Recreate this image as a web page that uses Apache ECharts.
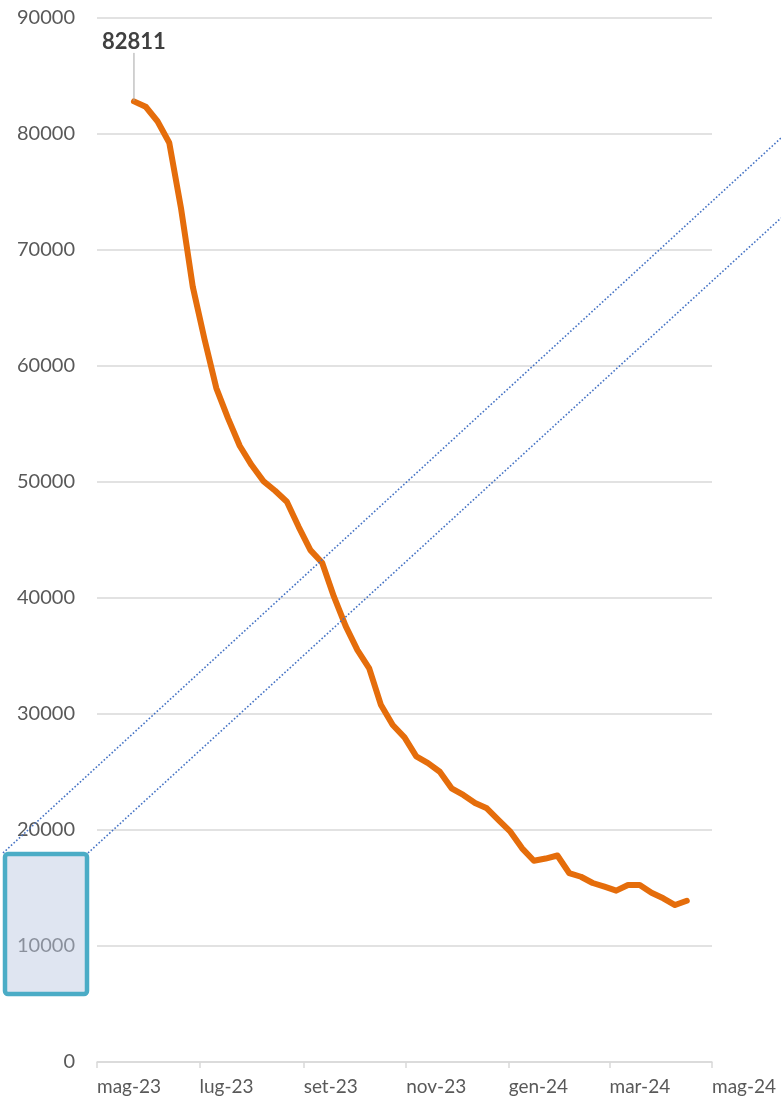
<!DOCTYPE html>
<html>
<head>
<meta charset="utf-8">
<script src="https://cdn.jsdelivr.net/npm/echarts@6/dist/echarts.min.js"></script>
<style>
  html, body { margin: 0; padding: 0; background: #fff; }
  #chart { width: 781px; height: 1102px; }
</style>
</head>
<body>
<div id="chart"></div>
<script>
// settimanale, da fine maggio 2023 a metà aprile 2024
var dates = [
    '2023-05-23', '2023-05-30', '2023-06-06', '2023-06-13', '2023-06-20', '2023-06-27',
    '2023-07-04', '2023-07-11', '2023-07-18', '2023-07-25', '2023-08-01', '2023-08-08',
    '2023-08-15', '2023-08-22', '2023-08-29', '2023-09-05', '2023-09-12', '2023-09-19',
    '2023-09-26', '2023-10-03', '2023-10-10', '2023-10-17', '2023-10-24', '2023-10-31',
    '2023-11-07', '2023-11-14', '2023-11-21', '2023-11-28', '2023-12-05', '2023-12-12',
    '2023-12-19', '2023-12-26', '2024-01-02', '2024-01-09', '2024-01-16', '2024-01-23',
    '2024-01-30', '2024-02-06', '2024-02-13', '2024-02-20', '2024-02-27', '2024-03-05',
    '2024-03-12', '2024-03-19', '2024-03-26', '2024-04-02', '2024-04-09', '2024-04-16'
];
var values = [
    82811, 82350, 81100, 79250, 73600, 66830,
    62300, 58100, 55490, 53100, 51460, 50080,
    49250, 48300, 46140, 44130, 43040, 40110,
    37580, 35510, 33940, 30770, 29050, 27990,
    26350, 25770, 25020, 23590, 23020, 22330,
    21870, 20860, 19850, 18420, 17350, 17540,
    17800, 16290, 15970, 15430, 15110, 14770,
    15260, 15260, 14590, 14110, 13530, 13900
];
var tickDates = ['2023-05-01', '2023-07-01', '2023-09-01', '2023-11-01', '2024-01-01', '2024-03-01', '2024-05-01'];
var mesi = ['gen', 'feb', 'mar', 'apr', 'mag', 'giu', 'lug', 'ago', 'set', 'ott', 'nov', 'dic'];
var yMin = 0, yMax = 90000, yStep = 10000;

// asse x in giorni dal primo tick (UTC, niente sorprese col fuso)
var DAY = 86400000;
function toDay(s) {
    var p = s.split('-');
    return Date.UTC(+p[0], p[1] - 1, +p[2]) / DAY;
}
var day0 = toDay(tickDates[0]);
function offset(s) { return toDay(s) - day0; }

var ticks = tickDates.map(offset);
var orange = '#e56d0b';
var seriesData = dates.map(function(d, i) {
    var item = {value: [offset(d), values[i]]};
    if (i === 0) {
        item.label = {
            show: true,
            position: 'top',
            distance: 4,
            formatter: String(values[i]),
            fontFamily: 'Lato',
            fontWeight: 'bold',
            fontSize: 22,
            color: '#404040'
        };
    }
    return item;
});

var grey = '#595959';
var gridGrey = '#d9d9d9';

var chart = echarts.init(document.getElementById('chart'));
var option = {
    animation: false,
    backgroundColor: '#fff',
    grid: {left: 97, right: 69, top: 18, bottom: 40, containLabel: false},
    xAxis: {
        type: 'value',
        min: ticks[0],
        max: ticks[ticks.length - 1],
        axisLine: {show: true, onZero: false, lineStyle: {color: gridGrey, width: 1.5}},
        axisTick: {show: true, customValues: ticks, length: 6, lineStyle: {color: gridGrey, width: 1.5}},
        axisLabel: {
            customValues: ticks,
            align: 'left',
            margin: 15,
            fontFamily: 'Lato',
            fontSize: 19,
            color: grey,
            formatter: function(v) {
                var d = new Date((day0 + v) * DAY);
                return mesi[d.getUTCMonth()] + '-' + String(d.getUTCFullYear()).slice(2);
            }
        },
        splitLine: {show: false}
    },
    yAxis: {
        type: 'value',
        min: yMin,
        max: yMax,
        interval: yStep,
        axisLine: {show: false},
        axisTick: {show: false},
        axisLabel: {
            margin: 22, fontFamily: 'Lato', fontSize: 20, color: grey,
            formatter: function(v) { return String(v); }
        },
        splitLine: {lineStyle: {color: gridGrey, width: 1.5}}
    },
    series: [{
        type: 'line',
        data: seriesData,
        symbol: 'circle',
        symbolSize: 1,
        showSymbol: true,
        showAllSymbol: true,
        itemStyle: {color: orange},
        lineStyle: {color: orange, width: 6, cap: 'round', join: 'round'},
        labelLayout: {dy: -44},
        labelLine: {show: true, lineStyle: {color: '#a6a6a6', width: 1}}
    }],
    graphic: [
        {
            type: 'rect',
            z: 100,
            shape: {x: 5, y: 854, width: 82, height: 140, r: 3},
            style: {fill: 'rgba(190,202,226,0.49)', stroke: '#4bacc6', lineWidth: 4.5}
        },
        {
            type: 'line',
            z: 101,
            shape: {x1: 3, y1: 853, x2: 781, y2: 138},
            style: {stroke: '#4472c4', lineWidth: 1.6, lineDash: [1.6, 2]}
        },
        {
            type: 'line',
            z: 101,
            shape: {x1: 88, y1: 853, x2: 781, y2: 218},
            style: {stroke: '#4472c4', lineWidth: 1.6, lineDash: [1.6, 2]}
        }
    ]
};
chart.setOption(option);
</script>
</body>
</html>
